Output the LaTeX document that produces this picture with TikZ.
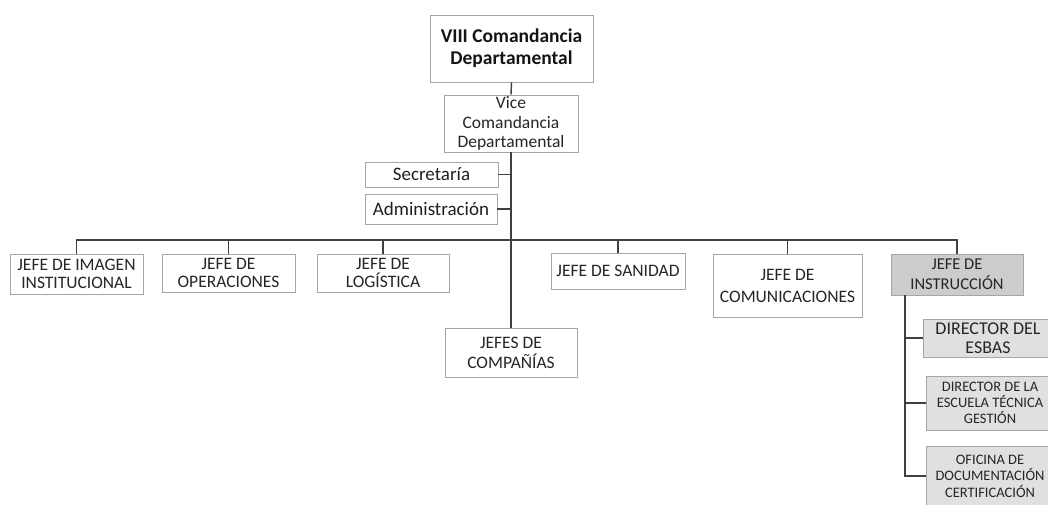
\documentclass[tikz,border=0pt]{standalone}
\usepackage{fontspec}
\setmainfont{Carlito}
\begin{document}
\begin{tikzpicture}[x=1pt,y=-1pt,
  box/.style={draw=black!35, line width=0.9pt, fill=white, text=black!85, align=center, inner sep=0pt, font=\fontsize{17.5}{18.5}\selectfont},
  big/.style={box, font=\fontsize{19.5}{22}\selectfont\bfseries, text=black!92},
  mid/.style={box, font=\fontsize{17.5}{19.5}\selectfont},
  side/.style={box, font=\fontsize{19}{21}\selectfont, text=black!88},
  gr/.style={box, fill=black!20, font=\fontsize{16.5}{20}\selectfont, text=black!85},
  lgr/.style={box, fill=black!12},
  conn/.style={draw=black!75, line width=1.4pt}]
\useasboundingbox (0,0) rectangle (1048,504);
\fill[white] (0,0) rectangle (1048,504);
\coordinate (bus) at (0,240);
\coordinate (sb) at (905,0);
\node[big, minimum width=163, minimum height=67] (top) at (511.5,48.5) {VIII Comandancia\\Departamental};
\node[mid, minimum width=134, minimum height=57] (vice) at (511,123.5) {Vice\\Comandancia\\Departamental};
\node[side, minimum width=133, minimum height=25] (sec) at (431.5,174.5) {Secretaría};
\node[side, minimum width=132, minimum height=30] (adm) at (431,209) {Administración};
\node[box, minimum width=133, minimum height=40] (img) at (76.5,274) {JEFE DE IMAGEN\\INSTITUCIONAL};
\node[box, minimum width=133, minimum height=38] (ope) at (228.5,273) {JEFE DE\\OPERACIONES};
\node[box, minimum width=132, minimum height=38] (log) at (383,273) {JEFE DE\\LOGÍSTICA};
\node[box, font=\fontsize{17.5}{20}\selectfont, minimum width=132, minimum height=49] (comp) at (511,352.5) {JEFES DE\\COMPAÑÍAS};
\node[box, minimum width=134, minimum height=36] (san) at (618,271) {JEFE DE SANIDAD};
\node[box, font=\fontsize{17.5}{22}\selectfont, minimum width=149, minimum height=63] (com) at (787.5,285.5) {JEFE DE\\COMUNICACIONES};
\node[gr, minimum width=132, minimum height=41] (ins) at (957,274.5) {JEFE DE\\INSTRUCCIÓN};
\node[lgr, font=\fontsize{18}{18.5}\selectfont, minimum width=130, minimum height=38] (esb) at (988,338) {DIRECTOR DEL\\ESBAS};
\node[lgr, font=\fontsize{14.5}{16}\selectfont, minimum width=128, minimum height=54] (esc) at (990,403) {DIRECTOR DE LA\\ESCUELA TÉCNICA\\GESTIÓN};
\node[lgr, font=\fontsize{14.5}{16.5}\selectfont, minimum width=128, minimum height=60] (ofi) at (990,476) {OFICINA DE\\DOCUMENTACIÓN\\CERTIFICACIÓN};
\draw[conn] (top.south) -- (vice.north);
\draw[conn] (vice.south) -- (comp.north);
\draw[conn] (sec.east) -- (sec.east -| vice.south);
\draw[conn] (adm.east) -- (adm.east -| vice.south);
\draw[conn] (img.north) -- (img.north |- bus) -- (ins.north |- bus) -- (ins.north);
\draw[conn] (ope.north) -- (ope.north |- bus);
\draw[conn] (log.north) -- (log.north |- bus);
\draw[conn] (san.north) -- (san.north |- bus);
\draw[conn] (com.north) -- (com.north |- bus);
\draw[conn] (ins.south -| sb) |- (ofi.west);
\draw[conn] (esb.west) -- (esb.west -| sb);
\draw[conn] (esc.west) -- (esc.west -| sb);
\end{tikzpicture}
\end{document}
